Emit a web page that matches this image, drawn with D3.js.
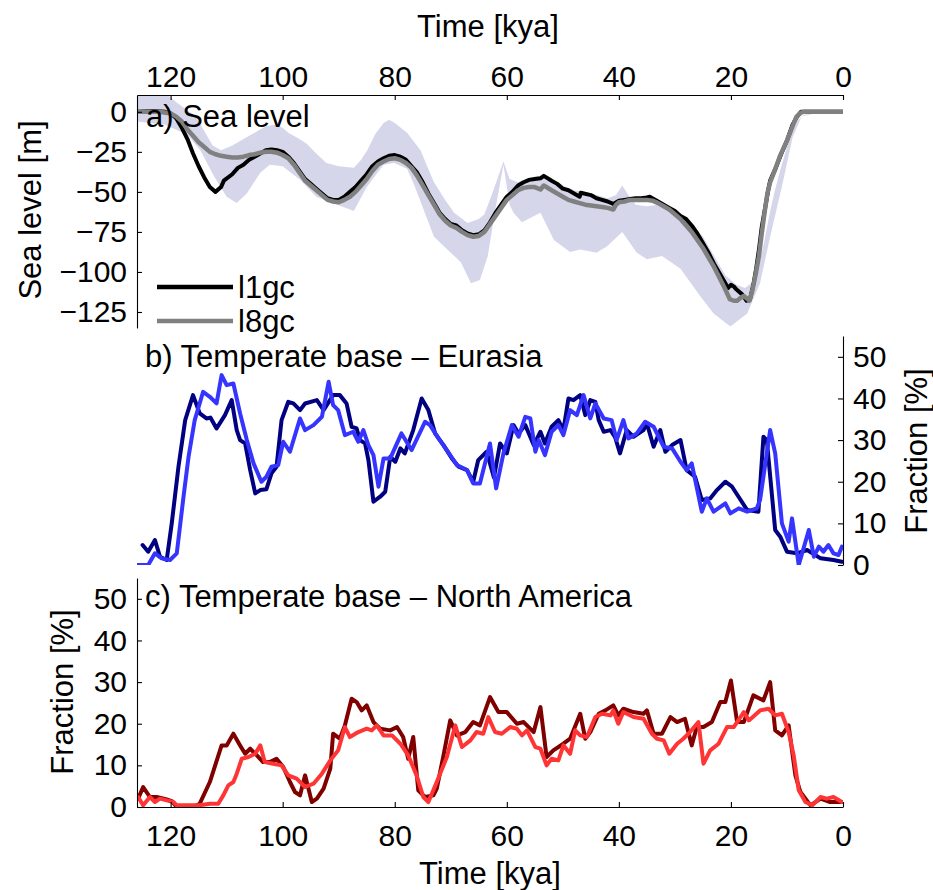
<!DOCTYPE html>
<html><head><meta charset="utf-8">
<script src="https://cdn.jsdelivr.net/npm/d3@7"></script>
<style>
body{margin:0;background:#fff}
svg{display:block}
text{font-family:"Liberation Sans",Arial,Helvetica,sans-serif;fill:#000}
</style>
</head><body>
<svg id="chart" width="933" height="890"></svg>
<script>
// ---------------- data ----------------
const timeTicks = [120, 100, 80, 60, 40, 20, 0];
const seaTicks = [0, -25, -50, -75, -100, -125];
const fracTicks = [0, 10, 20, 30, 40, 50];
const seriesNames = ["l1gc", "l8gc"];

// sea level [time kya, metres]
const seaL1 = [[126,0],[123,0.5],[121,0],[120,-1],[119,-4],[118,-10],[117,-17],[116,-26],[115,-34],[114,-41],[113,-47],[112,-50],[111,-47],[110.5,-43],[109,-39],[108,-35],[107,-33],[106,-30],[105,-28],[104,-26],[103,-24],[102,-23.5],[101,-24],[100,-25],[99,-28],[98,-32],[97,-37],[96,-42],[95,-45],[94,-48],[93,-51],[92,-54],[91,-55],[90,-55],[89,-53],[88,-50],[87,-47],[86,-43],[85,-39],[84,-34],[83,-31],[82,-29],[81,-27.5],[80,-27],[79,-28],[78,-30],[77,-34],[76,-38],[75,-44],[74,-51],[73,-57],[72,-63],[71,-67],[70,-70],[69,-71],[68,-74],[67,-76],[66,-77],[65,-76.5],[64,-74],[63,-69],[62,-63],[61,-58],[60,-53],[59,-50],[58,-46],[57,-44],[56,-42.5],[55,-42],[54,-41.5],[53.4,-40],[52,-43],[51,-45],[50,-48],[49,-49],[48,-51],[47,-53],[46.8,-50.5],[45,-52],[44,-54],[43,-55],[42,-56],[41,-57.5],[40,-55.5],[39,-55],[38,-54.5],[37,-54],[36,-54],[35,-53.5],[34.5,-53],[33,-56],[32,-58],[31,-60],[30,-62],[29,-65],[28,-67],[27,-71],[26,-76],[25,-82],[24,-88],[23,-95],[22,-101],[21,-107],[20.5,-110],[20,-108],[19.5,-109],[19,-111],[18,-114],[17.2,-118],[16.6,-117],[16,-108],[15.5,-98],[15,-86],[14.5,-72],[14,-62],[13.3,-48],[13,-43],[12,-35],[11,-26],[10,-18],[9,-8],[8.2,-3],[7.5,0],[5,0],[0,0]];
const seaL8 = [[126,0],[122,0],[120,-1],[119,-3],[118,-6],[117,-11],[116,-15],[115,-19],[114,-22],[113,-25],[112,-26.5],[111,-27.5],[110,-28],[109,-28.5],[108,-28.5],[107,-28],[106,-27],[105,-26.5],[104,-25.5],[103,-25],[102,-25],[101,-25.5],[100,-27],[99,-29],[98,-33],[97,-38],[96,-43],[95,-46],[94,-49],[93,-52],[92,-55],[91,-56],[90,-56.5],[89,-55],[88,-53],[87,-50],[86,-46],[85,-42],[84,-37],[83,-33],[82,-31],[81,-29.5],[80,-29],[79,-30],[78,-32],[77,-35],[76,-40],[75,-46],[74,-52],[73,-58],[72,-64],[71,-68],[70,-71],[69,-72.5],[68,-75],[67,-77],[66,-78],[65,-77.5],[64,-75],[63,-70],[62,-65],[61,-60],[60,-55],[59,-52],[58,-49],[57,-47.5],[56,-47],[55,-47],[54,-48.5],[53.4,-46],[52,-49],[51,-51],[50,-53],[49,-55],[48,-56],[47,-57],[46,-58],[45,-58.5],[44,-59],[43,-59.5],[42,-60],[41,-61],[40.5,-58],[40,-56.5],[39,-56],[38,-55],[37,-55],[36,-55],[35,-55],[34,-55.5],[33,-57],[32,-59],[31,-61],[30,-64],[29,-67],[28,-71],[27,-75],[26,-80],[25,-85],[24,-91],[23,-97],[22,-104],[21,-111],[20.2,-117],[19.5,-118],[18.9,-118],[18.2,-116],[17.7,-115],[17,-117],[16.7,-118],[16.2,-112],[15.5,-100],[15,-90],[14.5,-76],[14,-63],[13.5,-51],[13,-44],[12,-35],[11.3,-28],[10,-18],[9,-9],[8.3,-3],[7.5,-0.5],[7,0],[0,0]];

// sea level reconstruction envelope [time kya, metres]
const bandUpper = [[126,12],[121,12],[119,6],[117,1],[115.5,-3],[114,-12],[112.5,-21],[111,-24],[109,-21],[107,-17],[105,-13],[103,-9],[101.5,-8],[100,-10],[99,-13],[97,-17],[95.7,-20],[94,-26],[92.2,-32],[90,-34],[87.3,-35],[86,-30],[84.9,-24],[83.5,-14],[82,-7],[81,-5],[80,-7],[77.8,-13],[75.4,-24],[73,-44],[71,-55],[69.4,-63],[67,-69.5],[65,-67],[64,-64],[62.5,-50],[60.6,-31],[59.5,-42],[58,-44],[56,-41],[54,-40],[52,-42],[50,-46],[48,-49],[46,-50],[44,-52],[42,-54],[40.5,-52],[39.4,-46],[38.3,-52],[37,-58],[35,-59],[33,-58],[31,-60],[29,-64],[27,-70],[25,-78],[23,-90],[21,-102],[19,-108],[17.5,-110],[16,-106],[15,-96],[14,-80],[13,-62],[12,-47],[11,-34],[10,-22],[9,-12],[8,-5],[7,-2],[5,-0.5],[0,0]];
const bandLower = [[126,-6],[121,-8],[117,-14.4],[114.7,-24],[112.3,-40],[110,-53],[108.2,-57],[106.4,-51],[104,-38],[102.3,-33],[100,-34],[96.9,-42.5],[94,-53],[91.1,-57],[87.3,-62],[85,-47],[82,-33],[80.1,-32],[77.8,-35.6],[76.6,-45],[73,-78],[70,-88],[68.2,-94],[66.4,-107],[64.8,-105],[63.4,-90],[62,-60],[60.6,-33],[59.5,-58],[58.8,-63],[57.3,-69],[54,-63],[51.6,-80],[48.7,-87.5],[46.9,-86],[44,-88],[42.1,-84],[39.4,-75],[36.8,-88],[35,-92],[32.3,-90],[29,-98],[25.5,-115],[23.1,-126],[20.1,-134],[17.1,-126],[14.8,-107],[13,-78],[10.8,-45],[9,-16],[7.4,-3],[5,-1],[0,0]];

// temperate base fraction, Eurasia [time kya, %]
const eurL1 = [[125,4.8],[124,3.2],[122.8,6],[121.9,2],[120.7,1.2],[119.8,10],[118.6,23.6],[117.4,34.8],[116,40.8],[114.8,36.4],[113.6,35.2],[112.9,35.4],[111.8,32.8],[110.3,36],[109.1,39.6],[108.2,32.4],[107.6,30],[106.7,29.2],[105.8,22.8],[104.9,17.2],[104,18],[102.9,18.2],[102,22],[101.1,23.6],[100.2,34.8],[99,39.2],[98.1,38.8],[96.9,37.2],[96,38.8],[93.9,39.6],[92.7,37.2],[91,40.8],[89.8,40.8],[88.6,38.8],[87.7,33.2],[86.8,32.8],[86.2,30],[85.3,29.2],[84.7,25.2],[83.8,15.2],[82.6,16.4],[81.7,17.6],[80.8,26],[79.9,24.8],[79,28],[78.2,26.8],[76.7,32.4],[75.2,40],[74,37.2],[72.8,31.6],[71.3,28.8],[69.8,25.6],[68.6,23.6],[67.1,22.8],[66,20],[65.1,25.2],[63.6,27.2],[62.3,21],[61.2,29.2],[60,26.8],[58.8,33.6],[57.9,31.6],[56.7,33.6],[55.2,28.8],[54,32],[53.2,29.2],[52,33.2],[50.8,34.8],[49.9,32.4],[49,40],[48.1,39.6],[46.9,40.8],[46,36],[45.1,39.6],[44.2,39.2],[43.6,34.8],[42.7,32],[41.5,32.4],[40.7,30.8],[39.8,26.8],[38.6,32.4],[37.4,30.8],[35.6,32.4],[35,34],[33.8,28.4],[32.6,32.4],[31.7,27.2],[30.5,28.8],[29,30],[27.9,22.8],[26.4,21.2],[25.2,15.6],[23.7,16],[22.5,18],[21,20],[19.8,18.8],[17.1,13.2],[15.1,12.8],[14.2,30.8],[13.6,30],[12.1,8.4],[11.2,6.8],[10,3.2],[8.2,2.8],[6.4,3.6],[4,1.6],[1.7,1.2],[0.2,0.8]];
const eurL8 = [[126,0],[124,0],[122.8,2.8],[121.6,1.6],[120.1,1.2],[118.9,2.8],[117.7,16.4],[116.8,26],[115.7,34.8],[114.2,41.6],[113,40.4],[111.8,38.8],[110.9,45.6],[110,43.2],[108.8,43.6],[107.6,36.4],[106.4,30],[105.2,24.4],[103.8,20],[102.9,21.2],[102,23.6],[100.8,24],[99.9,29.6],[98.7,27.2],[96.9,35.2],[96,32.4],[94.5,33.6],[93,35.6],[91.8,44],[91,38.4],[90.1,37.2],[88.9,31.2],[87.4,32],[86.5,29.6],[85.6,32.4],[84.7,28.8],[83.8,26.4],[82.9,18.8],[82,25.6],[80.8,25.6],[78.8,31.6],[77,27.6],[74.6,34.4],[73.7,33.6],[72.2,30.4],[70.7,27.6],[68.9,24],[67.1,22.8],[66,19.6],[64.8,19.6],[63,29.2],[61.9,18.4],[60.6,26.8],[59.1,33.6],[57.9,30.8],[56.7,35.6],[55.8,35.2],[54.9,27.2],[54.3,30],[53.2,26.4],[52,32],[50.8,33.6],[49.9,31.2],[48.7,37.2],[47.5,36],[46.3,40.8],[45.1,35.2],[44.2,38.8],[42.7,35.2],[41.3,34.8],[40.4,30],[39.2,34.8],[38.3,30.4],[36.8,31.6],[35.3,34.4],[33.8,33.2],[32,28.4],[30.5,28],[29,24.8],[27.9,22.8],[27,24.4],[25.2,12.8],[24.3,16],[23.1,12.8],[21,14.8],[20.1,12.4],[18.6,13.6],[17.1,12.8],[15.4,13.6],[14.8,15.6],[13,32.4],[12.1,26.8],[10.9,10],[9.7,5.6],[9.1,11.2],[7.9,0],[6.1,8.4],[5.2,2],[4.3,4.4],[3.5,3.2],[2.6,4.8],[1.7,2.8],[0.8,2.4],[0.2,4.4]];

// temperate base fraction, North America [time kya, %]
const naL1 = [[125.8,2],[124.9,4.8],[123.7,2.4],[122.5,2.4],[120.7,1.8],[119.8,1.4],[118.9,0],[116,0],[114.8,0.8],[113,6],[110.9,14.8],[110,14.8],[108.8,17.6],[107.6,14.8],[106.7,12.8],[105.8,14],[104.6,12.4],[103.5,10.8],[102.3,10.8],[101.1,11.6],[99.9,9.6],[98.7,6],[97.8,3.6],[96.9,2.8],[96,7.6],[94.8,1.2],[93.9,2],[92.7,4.4],[91.5,9.2],[91,17.6],[89.8,16.4],[88.9,19.6],[87.7,26],[86.8,25.2],[85.9,23.2],[85,24.4],[83.8,20.4],[82.6,18.8],[80.8,18.4],[79.6,19.2],[78.5,16.8],[77.6,11.6],[76.7,16.8],[75.8,4],[74.6,2.4],[73.1,2.8],[72.5,4.4],[71.3,12.4],[70.1,20.8],[68.9,17.2],[67.4,18],[66,20.4],[64.8,19.6],[63,26.4],[61.5,22.8],[60,22.8],[58.2,20],[57,20.4],[55.2,18],[54,24],[52.9,12],[51.7,13.6],[49.9,15.2],[48.7,16.4],[46.9,22.4],[46,16.4],[45.1,18],[43.6,22.4],[42.4,23.2],[41,24.4],[40.1,22],[39.2,23.6],[37.4,22.8],[35.6,22.4],[35,23.2],[33.8,17.6],[32.3,17.6],[30.8,21.6],[29.6,20.4],[28.2,21.2],[27,14.8],[26.1,19.2],[24.9,19.2],[23.4,20.4],[21.9,25.2],[21,25.2],[20,30.4],[18.9,20.4],[17.7,20.4],[16,26.8],[14.2,25.6],[13,30],[12.1,18.4],[10.9,17.2],[9.7,19.6],[8.5,7.6],[7.6,3.6],[5.8,0.4],[4,2],[2.3,1.2],[0.2,1.2]];
const naL8 = [[125.8,2.4],[124.9,0.4],[123.7,2.4],[122.8,1.2],[121.9,2],[120.7,1.6],[119.5,1.2],[118.9,0.4],[114.8,0.4],[113,0.8],[111.5,0.8],[110.6,2.8],[109.7,5.2],[108.8,6],[108.2,8],[107.3,11.6],[106.1,12],[104.9,12.8],[104,14.8],[103.2,10.8],[101.7,10.4],[100.2,10],[99,7.6],[97.5,6.8],[96,4.8],[94.5,5.6],[93,8],[91.5,11.2],[90.1,13.6],[88.9,19.2],[88,16.8],[86.5,18],[85,18.8],[84.1,18.4],[83.2,19.6],[82,17.2],[80.5,17.2],[79,15.2],[77.6,12.4],[76.1,7.6],[74.9,2.4],[74,1.2],[72.5,6],[70.7,12],[69.2,19.6],[68,14.4],[66.5,16],[65.4,18],[64.2,17.6],[63.3,21.6],[62.1,18],[60.9,17.6],[59.4,19.2],[58.2,18.8],[57.3,17.2],[56.4,18.4],[54.9,14.4],[54,14],[52.9,10],[52,11.6],[50.8,11.2],[49.9,14.8],[48.7,12.8],[47.8,18.4],[46.9,17.2],[45.7,16.8],[44.2,21.6],[43,22.4],[41.5,22],[41,23.2],[40.1,20],[39.2,22.8],[37.4,21.6],[35.6,21.2],[34.1,17.6],[33.2,16.4],[32,16],[31,12.8],[29.6,15.2],[28.5,16.4],[27.3,18],[25.8,20.4],[24.9,10.4],[23.7,13.6],[22.2,15.2],[20.7,19.2],[19.5,19.2],[17.7,22.8],[16.8,20.8],[14.8,23.2],[13.3,23.6],[12.1,22],[10.9,22.4],[9.7,18],[8.8,12.4],[7.9,4],[6.7,1.2],[5.5,0.4],[4,2.4],[2.9,2],[1.7,2.4],[0.2,1.2]];

// ---------------- drawing ----------------
const FS = 30;   // tick labels
const FT = 31;   // titles and labels
const svg = d3.select("#chart");
const x = d3.scaleLinear().domain([126, 0]).range([137, 843]);
const ya = d3.scaleLinear().domain([-135, 10.5]).range([328, 95]);
const yb = d3.scaleLinear().domain([0, 55]).range([565, 336]);
const yc = d3.scaleLinear().domain([0, 55]).range([807, 578]);
const fmt = d => d < 0 ? "\u2212" + Math.abs(d) : String(d);

const defs = svg.append("defs");
function clip(id, y) {
  defs.append("clipPath").attr("id", id).append("rect")
    .attr("x", x.range()[0]).attr("y", y.range()[1])
    .attr("width", x.range()[1] - x.range()[0])
    .attr("height", y.range()[0] - y.range()[1]);
}
clip("ca", ya); clip("cb", yb); clip("cc", yc);

function drawLine(g, data, y, color, w) {
  const line = d3.line().x(d => x(d[0])).y(d => y(d[1]));
  g.append("path").datum(data).attr("d", line)
    .attr("fill", "none").attr("stroke", color).attr("stroke-width", w)
    .attr("stroke-linejoin", "round").attr("stroke-linecap", "round");
}
function styleAxis(g) {
  g.selectAll("path.domain").attr("stroke", "#000").attr("stroke-width", 1.1);
  g.selectAll(".tick line").attr("stroke", "#000").attr("stroke-width", 1.1);
  g.selectAll("text").attr("font-size", FS).attr("font-family", '"Liberation Sans",Arial,sans-serif').attr("fill", "#000");
}

// ---- panel a
const ga = svg.append("g").attr("clip-path", "url(#ca)");
const bandPts = bandUpper.concat(bandLower.slice().reverse());
ga.append("path").datum(bandPts)
  .attr("d", d3.line().x(d => x(d[0])).y(d => ya(d[1])).curve(d3.curveLinearClosed))
  .attr("fill", "#d6d6eb").attr("stroke", "none");
drawLine(ga, seaL1, ya, "#000000", 4);
drawLine(ga, seaL8, ya, "#808080", 4.5);

svg.append("g").attr("transform", `translate(0,${ya.range()[1]})`)
  .call(d3.axisTop(x).tickValues(timeTicks).tickSize(-5).tickSizeOuter(0).tickPadding(8))
  .call(styleAxis);
svg.append("g").attr("transform", `translate(${x.range()[0]},0)`)
  .call(d3.axisLeft(ya).tickValues(seaTicks).tickFormat(fmt).tickSize(-5).tickSizeOuter(0).tickPadding(10))
  .call(styleAxis);

svg.append("text").attr("x", 488).attr("y", 37).attr("text-anchor", "middle")
  .attr("font-size", FT).text("Time [kya]");
svg.append("text").attr("transform", "translate(41,210) rotate(-90)").attr("text-anchor", "middle")
  .attr("font-size", FT).text("Sea level [m]");
svg.append("text").attr("x", 146).attr("y", 127).attr("font-size", FT).text("a) Sea level");

// legend
const legColors = ["#000000", "#808080"];
seriesNames.forEach((name, i) => {
  const ly = 287 + i * 34;
  svg.append("line").attr("x1", 157).attr("x2", 233).attr("y1", ly).attr("y2", ly)
    .attr("stroke", legColors[i]).attr("stroke-width", 4.5);
  svg.append("text").attr("x", 238).attr("y", ly + 11).attr("font-size", FT).text(name);
});

// ---- panel b
const gb = svg.append("g").attr("clip-path", "url(#cb)");
drawLine(gb, eurL1, yb, "#000080", 4);
drawLine(gb, eurL8, yb, "#3535ff", 4);
svg.append("g").attr("transform", `translate(${x.range()[1]},0)`)
  .call(d3.axisRight(yb).tickValues(fracTicks).tickSize(-5).tickSizeOuter(0).tickPadding(10))
  .call(styleAxis);
svg.append("text").attr("transform", "translate(927,451) rotate(-90)").attr("text-anchor", "middle")
  .attr("font-size", FT).text("Fraction [%]");
svg.append("text").attr("x", 145).attr("y", 367).attr("font-size", FT).text("b) Temperate base \u2013 Eurasia");

// ---- panel c
const gc = svg.append("g").attr("clip-path", "url(#cc)");
drawLine(gc, naL1, yc, "#800000", 4);
drawLine(gc, naL8, yc, "#ff3535", 4);
svg.append("g").attr("transform", `translate(${x.range()[0]},0)`)
  .call(d3.axisLeft(yc).tickValues(fracTicks).tickSize(-5).tickSizeOuter(0).tickPadding(10))
  .call(styleAxis);
svg.append("g").attr("transform", `translate(0,${yc.range()[0]})`)
  .call(d3.axisBottom(x).tickValues(timeTicks).tickSize(-5).tickSizeOuter(0).tickPadding(18))
  .call(styleAxis);
svg.append("text").attr("transform", "translate(73,692) rotate(-90)").attr("text-anchor", "middle")
  .attr("font-size", FT).text("Fraction [%]");
svg.append("text").attr("x", 145).attr("y", 607).attr("font-size", FT).text("c) Temperate base \u2013 North America");
svg.append("text").attr("x", 490).attr("y", 884).attr("text-anchor", "middle")
  .attr("font-size", FT).text("Time [kya]");
</script>
</body></html>
